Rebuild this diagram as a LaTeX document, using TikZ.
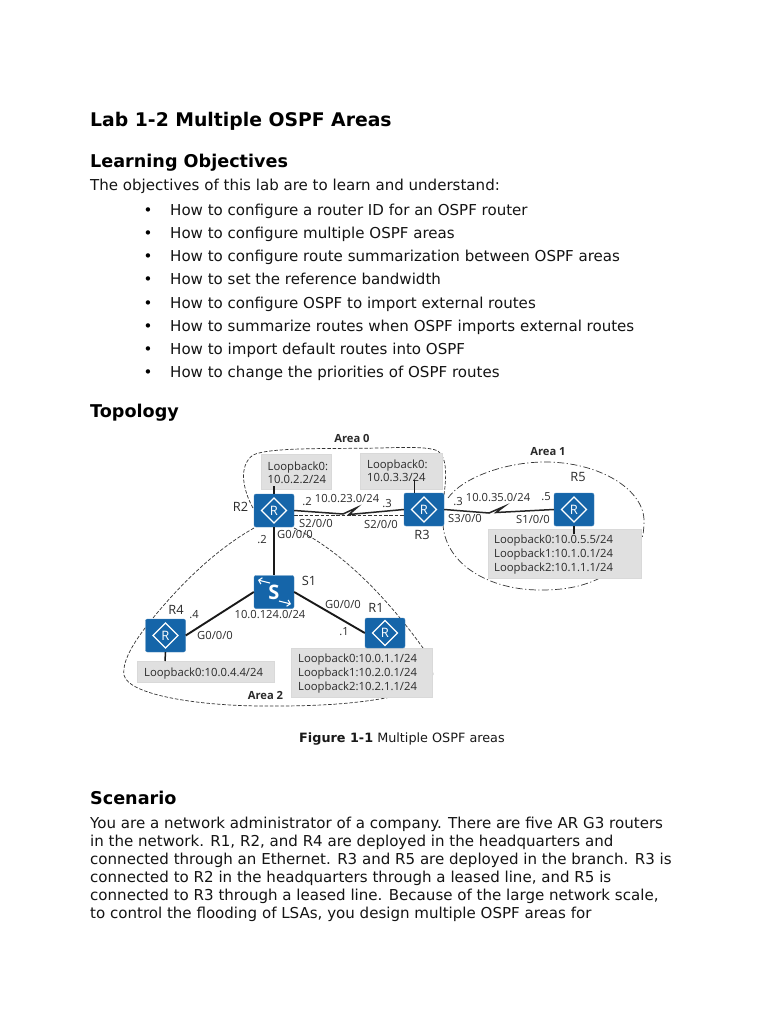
\documentclass[tikz,border=0pt]{standalone}
\usepackage{fontspec}
\setmainfont{DejaVu Sans}
\newfontfamily\figfont{Open Sans}
\definecolor{routerblue}{HTML}{1565A9}
\definecolor{loopgray}{HTML}{E0E0E0}
\definecolor{figtext}{HTML}{2A2A2A}
\usetikzlibrary{calc,arrows.meta}
\tikzset{
 x=1pt,y=-1pt,
 bodytext/.style={anchor=base west,inner sep=0pt,font=\fontsize{15.05}{18}\selectfont,text=black!92},
 heading/.style={anchor=base west,inner sep=0pt,font=\fontsize{17.6}{21}\selectfont\bfseries},
 titletext/.style={anchor=base west,inner sep=0pt,font=\fontsize{18.8}{22}\selectfont\bfseries},
 bulletdot/.style={anchor=base,inner sep=0pt,font=\fontsize{15.05}{18}\selectfont},
 device/.style={draw=routerblue!80!white,fill=routerblue,rounded corners=2pt,minimum width=40pt,minimum height=33pt,inner sep=0pt,line width=0.4pt},
 looptext/.style={anchor=west,inner sep=0pt,align=left,font=\figfont\fontsize{11.3}{13.7}\selectfont,text=figtext},
 looptwo/.style={anchor=west,inner sep=0pt,align=left,font=\figfont\fontsize{11.3}{13}\selectfont,text=figtext},
 figlabel/.style={inner sep=0pt,font=\figfont\fontsize{11.2}{13}\selectfont,text=figtext},
 devname/.style={inner sep=0pt,font=\figfont\fontsize{12.8}{15}\selectfont,text=figtext},
 arealabel/.style={inner sep=0pt,font=\figfont\bfseries\fontsize{11.2}{13}\selectfont,text=figtext},
 arealine/.style={line width=0.7pt,draw=black!80,dash pattern=on 3.5pt off 1.8pt},
 arealinedot/.style={line width=0.7pt,draw=black!80,dash pattern=on 7pt off 2.5pt on 1.2pt off 2.5pt},
 ethlink/.style={line width=1.9pt,draw=black!90},
 stublink/.style={line width=1.5pt,draw=black!90},
 seriallink/.style={line width=1.5pt,draw=black!85,line join=miter},
 glyph/.style={draw=white,line width=1.2pt},
 loopfill/.style={fill=loopgray,draw=black!15,line width=0.3pt},
 s1arrow/.style={white,line width=1.1pt,-{Straight Barb[length=3pt,width=6.5pt]}},
}
\newcommand{\routerglyph}[1]{%
 \draw[glyph,line join=miter] ($(#1)+(-12.5,0)$) -- ($(#1)+(0,-12.5)$) -- ($(#1)+(12.5,0)$) -- ($(#1)+(0,12.5)$) -- cycle;
 \node[inner sep=0pt,text=white,font=\figfont\fontsize{13}{14}\selectfont] at (#1) {R};
}
\begin{document}
\begin{tikzpicture}
\useasboundingbox[fill=white] (0,0) rectangle (768,1024);
% text
\node[titletext] (t1) at (90,127) {Lab 1-2 Multiple OSPF Areas};
\node[heading] (t2) at (90,167.5) {Learning Objectives};
\node[bodytext] (t3) at (90,190.5) {The objectives of this lab are to learn and understand:};
\foreach \yy/\lbl in {215/How to configure a router ID for an OSPF router,
 238/How to configure multiple OSPF areas,
 261/How to configure route summarization between OSPF areas,
 284/How to set the reference bandwidth,
 308/How to configure OSPF to import external routes,
 331/How to summarize routes when OSPF imports external routes,
 354/How to import default routes into OSPF,
 377/How to change the priorities of OSPF routes}{
 \node[bulletdot] at (148,\yy) {•};
 \node[bodytext] at (170,\yy) {\lbl};
}
\node[heading] (t4) at (90,417) {Topology};
\node[heading] (t5) at (90,804) {Scenario};
\node[bodytext] (p1) at (90,828) {You are a network administrator of a company. There are five AR G3 routers};
\node[bodytext] (p2) at (90,846) {in the network. R1, R2, and R4 are deployed in the headquarters and};
\node[bodytext] (p3) at (90,864) {connected through an Ethernet. R3 and R5 are deployed in the branch. R3 is};
\node[bodytext] (p4) at (90,882) {connected to R2 in the headquarters through a leased line, and R5 is};
\node[bodytext] (p5) at (90,900) {connected to R3 through a leased line. Because of the large network scale,};
\node[bodytext] (p6) at (90,918) {to control the flooding of LSAs, you design multiple OSPF areas for};
\node[anchor=base west,inner sep=0pt,font=\fontsize{12.8}{15}\selectfont,text=black!90] (cap) at (299,742) {\textbf{Figure 1-1} Multiple OSPF areas};
% area curves
\draw[arealine] (253,508) .. controls (243,490) and (238,466) .. (253,455) .. controls (270,447) and (330,449) .. (380,448) .. controls (410,447) and (430,447) .. (438,451) .. controls (448,458) and (446,480) .. (444,495);
\draw[arealine] (294,515.5) -- (404,515.5);
\draw[arealinedot] (448,498) .. controls (462,478) and (505,462) .. (545,462) .. controls (600,462) and (645,490) .. (644,522) .. controls (644,530) and (643,536) .. (641,541);
\draw[arealinedot] (600,578) .. controls (580,588) and (560,590) .. (540,590) .. controls (490,590) and (446,565) .. (443,525);
\draw[arealine] (254,528) .. controls (215,550) and (180,585) .. (153,618) .. controls (135,640) and (122,660) .. (124,675) .. controls (128,695) and (200,707) .. (277,706) .. controls (325,706) and (360,703) .. (391,697);
\draw[arealine] (294,528) .. controls (340,550) and (385,595) .. (423,648);
\draw[arealine,draw=black!30] (423,648) .. controls (430,660) and (433,668) .. (433,675);
% gray boxes
\path[loopfill] (261,454) rectangle (331,489);
\path[loopfill] (360,453) rectangle (442,489);
\path[loopfill] (488,529) rectangle (641,578);
\path[loopfill] (137,661) rectangle (274,682);
\path[loopfill] (291,648) rectangle (432,697);
\node[looptwo] (l2) at (267.5,472.5) {Loopback0:\\10.0.2.2/24};
\node[looptwo] (l3) at (367,471) {Loopback0:\\10.0.3.3/24};
\node[looptext] (l5) at (494,554.5) {Loopback0:10.0.5.5/24\\Loopback1:10.1.0.1/24\\Loopback2:10.1.1.1/24};
\node[looptext] (l4) at (144,674) {Loopback0:10.0.4.4/24};
\node[looptext] (l1) at (298,673.5) {Loopback0:10.0.1.1/24\\Loopback1:10.2.0.1/24\\Loopback2:10.2.1.1/24};
% devices
\node[device] (R2) at (274,510.5) {};
\node[device] (R3) at (424,509.5) {};
\node[device] (R5) at (574,509.5) {};
\node[device] (S1) at (274,592) {};
\node[device] (R4) at (165.5,635.5) {};
\node[device,minimum height=30pt] (R1) at (385,633) {};
\routerglyph{R2}\routerglyph{R3}\routerglyph{R5}\routerglyph{R4}\routerglyph{R1}
\node[inner sep=0pt,text=white,font=\figfont\bfseries\fontsize{20}{22}\selectfont] (S1t) at (274,592.5) {S};
\draw[s1arrow] (270,583) -- (258,580);
\draw[s1arrow] (279,601) -- (291,604);
% links
\draw[ethlink] (R2.south) -- (S1.north);
\draw[ethlink] (S1.west) -- (R4.east);
\draw[ethlink] (S1.east) -- (R1.west);
\draw[stublink] (R2.north) -- (274,486);
\draw[stublink] (414.5,493) -- (414.5,480);
\draw[stublink] (R5.south) -- (574,534);
\draw[stublink] (R4.south) -- (165,661);
\draw[seriallink] (R2.east) -- (343,514) -- (357,507.5) -- (349,514.5) -- (R3.west);
\draw[seriallink] (R3.east) -- (489,513) -- (504,506.5) -- (496,512.5) -- (R5.west);
% labels
\node[arealabel] (a0) at (352,438) {Area 0};
\node[arealabel] (a1) at (548,451.5) {Area 1};
\node[arealabel] (a2) at (265.5,695) {Area 2};
\node[devname] (nR2) at (240.5,507) {R2};
\node[devname] (nR3) at (422,535) {R3};
\node[devname] (nR5) at (578,477) {R5};
\node[devname] (nS1) at (309,581) {S1};
\node[devname] (nR4) at (176,610) {R4};
\node[devname] (nR1) at (376,608) {R1};
\node[figlabel] (d1) at (307,502) {.2};
\node[figlabel] (d2) at (387,504) {.3};
\node[figlabel] (d3) at (458,502) {.3};
\node[figlabel] (d4) at (546,497) {.5};
\node[figlabel] (d5) at (262,540) {.2};
\node[figlabel] (d6) at (194,615) {.4};
\node[figlabel] (d7) at (344,632) {.1};
\node[figlabel] (n1) at (347,499) {10.0.23.0/24};
\node[figlabel] (n2) at (498,498) {10.0.35.0/24};
\node[figlabel] (n3) at (270,615) {10.0.124.0/24};
\node[figlabel] (s1) at (316,523) {S2/0/0};
\node[figlabel] (s2) at (381,524) {S2/0/0};
\node[figlabel] (s3) at (465,518) {S3/0/0};
\node[figlabel] (s4) at (533,519) {S1/0/0};
\node[figlabel] (g1) at (295,534) {G0/0/0};
\node[figlabel] (g2) at (215,635) {G0/0/0};
\node[figlabel] (g3) at (343,604) {G0/0/0};
\end{tikzpicture}
\end{document}
